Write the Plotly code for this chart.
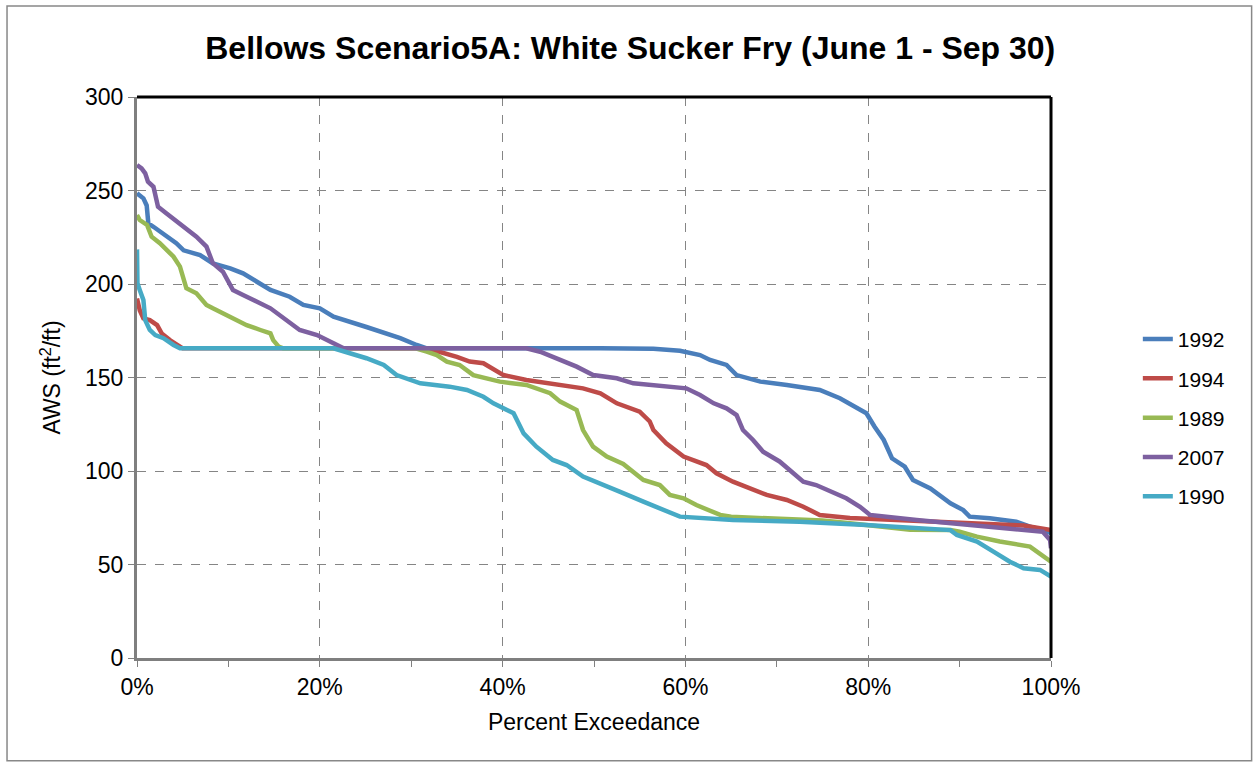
import plotly.graph_objects as go

# percent exceedance (x) and AWS (y)
x_1992 = [0, 0.7, 1.06, 1.24, 1.8, 2.9, 4.3, 5.1, 6.9, 8.3, 10.2, 11.6, 13.1, 14.6, 16.7, 18.2, 20,
          21.5, 25.1, 28.8, 30.6, 31.7, 50.7, 56.5, 59.4, 61.6, 62.7, 64.5, 65.6, 68.2, 71.1, 74.7,
          76.9, 78.4, 79.8, 80.7, 81.7, 82.6, 84, 84.9, 86.8, 89, 90.4, 91.1, 93.3, 96.2, 97.7, 99.2, 100]
y_1992 = [248.5, 245.8, 242, 232.4, 230.6, 227, 221.8, 218, 215.5, 211, 208.4, 205.7, 201.2, 196.8, 193.2, 188.8, 187,
          182.5, 177, 171, 167.4, 165.6, 165.6, 165.4, 164.3, 162, 159.4, 156.7, 151.3, 147.8, 146, 143.3,
          138.9, 134.4, 130.9, 123.7, 116.6, 106.8, 102.3, 95.2, 90.7, 82.7, 79.1, 75.6, 74.7, 72.9, 70.2, 68.4, 66.7]

x_1994 = [0, 0.3, 0.7, 1.4, 2.2, 2.7, 3.6, 4.7, 5.0, 31.5, 32.4, 35, 36.4, 37.9, 39.4, 40.1, 42.6, 45.2, 48.8,
          50.7, 52.5, 55, 56.1, 56.5, 57.9, 59.8, 62.3, 63.4, 65.2, 68.9, 71.1, 72.9, 74.7, 78, 84, 90, 97, 100]
y_1994 = [192.3, 186, 181.6, 180.7, 178, 173.6, 170, 166.5, 165.6, 165.6, 164.7, 161, 158.5, 157.6, 153.1, 151.3, 148.7, 146.9, 144.2,
          141.6, 136.2, 131.7, 126.5, 121.9, 114.8, 107.7, 103.2, 98.8, 94.3, 87.2, 84.5, 80.9, 76.5, 74.9, 73.6, 72.4, 70.8, 68.5]

x_1989 = [0, 0.3, 1.1, 1.6, 2.5, 3.2, 4.0, 4.7, 5.4, 6.5, 7.6, 8.3, 10.2, 12, 13.5, 14.6, 14.9, 15.5, 16.0,
          30.5, 31.7, 32.8, 33.9, 35.3, 36.8, 38.3, 39.7, 42.6, 45.2, 46.3, 48.1, 48.8, 49.9, 51.4, 53.2,
          55.4, 57.2, 58.3, 59.8, 61.2, 62.7, 63.8, 65, 70, 75, 78, 84.6, 89, 90, 91.9, 94.4, 97.7, 98.8, 100]
y_1989 = [236.9, 234.2, 231.6, 225.3, 221.8, 218.2, 214.6, 209.3, 197.7, 195, 188.8, 187, 182.5, 178, 175.4, 173.6, 170, 166.5, 165.6,
          165.6, 163.8, 162, 158.5, 156.7, 151.3, 149.6, 147.8, 146, 141.6, 137.1, 132.6, 121.9, 113, 107.7, 103.8,
          95.2, 92.5, 87.2, 85.4, 81.8, 79.1, 76.5, 75.5, 74.5, 73.5, 72, 68.6, 68.4, 67.5, 64.9, 62.3, 59.6, 56, 51.5]

x_2007 = [0, 0.5, 0.9, 1.2, 1.8, 2.3, 3.2, 4.2, 5.1, 6.5, 7.6, 8.3, 9.4, 10.5, 11.6, 13.1, 14.6, 17.8, 19.7,
          21.5, 22.6, 42.6, 44.1, 46.3, 48.1, 49.9, 52.5, 54.3, 56.5, 60.1, 61.6, 63.1, 64.5, 65.6, 66.3,
          67.4, 68.5, 70.3, 71.4, 72.9, 74.3, 76.2, 77.6, 79.1, 80.2, 85.3, 92.6, 96.2, 99.1, 99.9, 100]
y_2007 = [263.6, 261.8, 259.2, 254.7, 252, 241.3, 237.8, 234.2, 230.7, 225.3, 220, 211.1, 206.6, 196.8, 194.1, 190.5, 187, 175.4, 172.7,
          168.3, 165.6, 165.6, 163.8, 159.4, 155.8, 151.3, 149.6, 146.9, 146, 144.2, 140.6, 136.2, 133.5, 129.9, 121.9,
          116.6, 110.3, 105.1, 100.5, 94.3, 92.5, 88.1, 85.4, 80.9, 76.5, 73.8, 70.2, 68.4, 67.5, 63.1, 58.7]

x_1990 = [0, 0.05, 0.3, 0.7, 0.9, 1.4, 2.0, 2.9, 4.0, 4.7, 21.5, 23.3, 25.1, 27, 28.4, 31, 34.2, 36.1, 37.9,
          39, 41.2, 42.3, 43.7, 45.5, 47, 48.8, 50.7, 52.8, 55.4, 57.2, 59.4, 65.2, 72.5, 79.8, 89,
          89.7, 91.9, 93.7, 95.5, 97, 98.8, 100]
y_1990 = [218.5, 200.4, 196.8, 191.4, 180.7, 175.4, 172.7, 171, 167.4, 165.6, 165.6, 163, 160.3, 156.7, 151.3, 146.9, 145.1, 143.3, 139.7,
          136.2, 130.9, 120.1, 113, 105.9, 103.2, 97, 93.4, 89, 83.6, 80.1, 75.6, 73.8, 72.9, 71.1, 68.4,
          65.8, 62.3, 56.9, 51.5, 48, 47.1, 43.5]

series = [
    ("1992", x_1992, y_1992, "#4A7EBB"),
    ("1994", x_1994, y_1994, "#BE4B48"),
    ("1989", x_1989, y_1989, "#98B954"),
    ("2007", x_2007, y_2007, "#7D60A0"),
    ("1990", x_1990, y_1990, "#46AAC5"),
]

font = "Arial, Liberation Sans, sans-serif"

fig = go.Figure()
for name, xs, ys, color in series:
    fig.add_trace(go.Scatter(x=xs, y=ys, mode="lines", name=name, legendgroup=name,
                             line=dict(color=color, width=4.5)))

fig.update_layout(
    width=1253, height=763,
    paper_bgcolor="white", plot_bgcolor="white",
    margin=dict(l=137, r=202, t=97, b=105),
    font=dict(family=font, size=23, color="black"),
    title=dict(text="<b>Bellows Scenario5A: White Sucker Fry (June 1 - Sep 30)</b>",
               x=0.503, xref="container", xanchor="center", y=0.938, yref="container", yanchor="middle",
               font=dict(size=32, family=font)),
    legend=dict(x=1.095, xanchor="left", y=0.428, yanchor="middle",
                font=dict(size=21), tracegroupgap=9, traceorder="grouped",
                bgcolor="rgba(0,0,0,0)"),
    showlegend=True,
)

fig.update_xaxes(
    range=[0, 100], dtick=20, ticksuffix="%", ticks="outside", ticklen=6, tickcolor="#808080",
    showgrid=True, gridcolor="#858585", griddash="dash", gridwidth=1,
    minor=dict(dtick=10, ticks="outside", ticklen=6, tickcolor="#808080", showgrid=False),
    showline=True, linecolor="#7f7f7f", linewidth=3, zeroline=False,
    title=dict(text="Percent Exceedance", font=dict(size=23), standoff=16),
)
fig.update_yaxes(
    range=[0, 300], dtick=50, ticks="outside", ticklen=6, tickcolor="#808080",
    showgrid=True, gridcolor="#858585", griddash="dash", gridwidth=1,
    showline=True, linecolor="#7f7f7f", linewidth=3, zeroline=False,
    title=dict(text="AWS (ft<sup>2</sup>/ft)", font=dict(size=23), standoff=18),
)

# thick black top and right borders of the plot area
fig.add_shape(type="line", xref="paper", yref="paper", x0=0, x1=1, y0=1, y1=1,
              line=dict(color="black", width=3))
fig.add_shape(type="line", xref="paper", yref="paper", x0=1, x1=1, y0=0, y1=1,
              line=dict(color="black", width=3))
# outer chart border
fig.add_shape(type="rect", xref="paper", yref="paper", x0=-0.1422, x1=1.2195, y0=-0.183, y1=1.1622,
              line=dict(color="#888888", width=1.5))

fig.write_html("out.html", config={"displayModeBar": False},
               post_script="document.body.style.margin='0';")
